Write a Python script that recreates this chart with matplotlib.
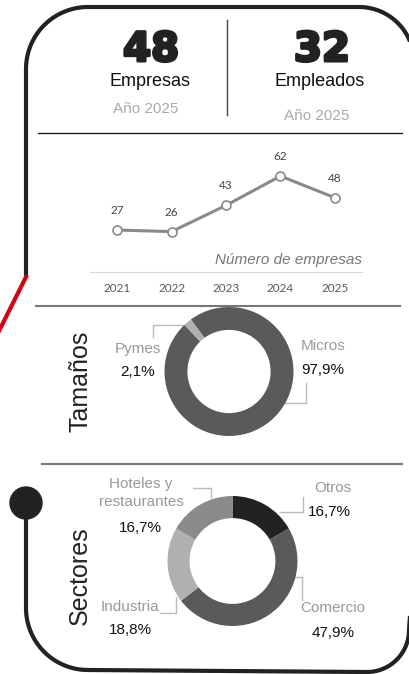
import matplotlib
matplotlib.use("Agg")
import matplotlib.pyplot as plt
import matplotlib.patheffects as pe
import numpy as np

# Data
years = ["2021", "2022", "2023", "2024", "2025"]
empresas = [27, 26, 43, 62, 48]

total_empresas = 48
total_empleados = 32

tam_labels = ["Micros", "Pymes"]
tam_values = [97.9, 2.1]

sec_labels = ["Otros", "Comercio", "Industria", "Hoteles y\nrestaurantes"]
sec_values = [16.7, 47.9, 18.8, 16.7]

W, H = 409, 674
SANS = ["Liberation Sans", "DejaVu Sans"]
DARK = "#222222"


def pct(v):
    return f"{v:.1f}".replace(".", ",") + "%"


def fig_rect(x0, y0, x1, y1):
    # pixel box (top-left origin) -> figure fraction
    return [x0 / W, 1 - y1 / H, (x1 - x0) / W, (y1 - y0) / H]


fig = plt.figure(figsize=(W / 100, H / 100), dpi=100)
bg = fig.add_axes([0, 0, 1, 1])
bg.set_xlim(0, W)
bg.set_ylim(H, 0)
bg.axis("off")

# frame
def arc(cx, cy, r, a0, a1):
    t = np.radians(np.linspace(a0, a1, 40))
    return cx + r * np.cos(t), cy - r * np.sin(t)

xs, ys = [26], [277]
ax_, ay_ = arc(88, 69, 62, 180, 90)
xs += list(ax_); ys += list(ay_)
ax_, ay_ = arc(359, 62, 55, 90, 0)
xs += list(ax_); ys += list(ay_)
bg.plot(xs, ys, color=DARK, lw=3, solid_capstyle="butt")

xs, ys = [26], [503]
ax_, ay_ = arc(88, 608, 62, 180, 270)
xs += list(ax_); ys += list(ay_)
ax_, ay_ = arc(367, 630, 42, 270, 360)
xs += list(ax_); ys += list(ay_)
xs += [409 + 5]; ys += [560]
bg.plot(xs, ys, color=DARK, lw=3, solid_capstyle="butt")
bg.add_patch(plt.Circle((26, 503), 16, color=DARK, zorder=5))
bg.plot([26, -2], [277, 333], color="#d7000f", lw=3)

# top numbers
heavy = [pe.withStroke(linewidth=2.2, foreground=DARK)]
bg.text(151, 50, str(total_empresas), ha="center", va="center", fontsize=29,
        fontweight="heavy", color=DARK, family="DejaVu Sans", path_effects=heavy)
bg.text(322, 50, str(total_empleados), ha="center", va="center", fontsize=29,
        fontweight="heavy", color=DARK, family="DejaVu Sans", path_effects=heavy)
bg.text(150, 82, "Empresas", ha="center", va="center", fontsize=13, color="#111", family=SANS)
bg.text(320, 82, "Empleados", ha="center", va="center", fontsize=13, color="#111", family=SANS)
bg.text(146, 109, "Año 2025", ha="center", va="center", fontsize=11, color="#aaaaaa", family=SANS)
bg.text(317, 116, "Año 2025", ha="center", va="center", fontsize=11, color="#aaaaaa", family=SANS)
bg.plot([227, 227], [20, 115], color="#444444", lw=1)
bg.plot([38, 402], [133, 133], color="#222222", lw=1)

# separators
bg.plot([36, 400], [305.5, 305.5], color="#777777", lw=1.5)
bg.plot([42, 402], [464, 464], color="#777777", lw=1.5)

# line chart
lc = fig.add_axes(fig_rect(90, 150, 362, 271.7))
x = np.arange(len(years))
lc.plot(x, empresas, color="#8a8a8a", lw=2.2, marker="o", ms=6.5,
        mfc="white", mec="#8a8a8a", mew=1.2)
for xi, v in zip(x, empresas):
    lc.annotate(str(v), (xi, v), xytext=(0, 10), textcoords="offset points",
                ha="center", va="bottom", fontsize=8.5, color="#444444", family="Lato")
lc.set_xlim(-0.5, len(years) - 0.5)
lc.set_ylim(0, 78.9)
lc.set_xticks(x)
lc.set_xticklabels(years, fontsize=8.5, color="#595959", family="Lato")
lc.tick_params(axis="x", length=0, pad=8)
lc.set_yticks([])
for s in ["top", "right", "left"]:
    lc.spines[s].set_visible(False)
lc.spines["bottom"].set_color("#d9d9d9")
lc.patch.set_alpha(0)
lc.text(4.5, 3, "Número de empresas", ha="right", va="bottom", fontsize=11,
        style="italic", color="#777777", family=SANS)

# Tamaños donut
t_ax = fig.add_axes(fig_rect(229 - 64.5, 371.5 - 64.5, 229 + 64.5, 371.5 + 64.5))
t_ax.pie(tam_values, colors=["#5a5a5a", "#b0b0b0"], startangle=126.2, counterclock=False,
         radius=1, wedgeprops=dict(width=0.355, linewidth=0))
t_ax.set_xlim(-1, 1); t_ax.set_ylim(-1, 1); t_ax.set_aspect("equal")

bg.text(80, 381, "Tamaños", rotation=90, ha="center", va="center", fontsize=18,
        color=DARK, family=SANS)
bg.text(138, 349, tam_labels[1], ha="center", va="center", fontsize=11, color="#999999", family=SANS)
bg.text(138, 372, pct(tam_values[1]), ha="center", va="center", fontsize=11, color="#111", family=SANS)
bg.text(323, 346, tam_labels[0], ha="center", va="center", fontsize=11, color="#999999", family=SANS)
bg.text(323, 370, pct(tam_values[0]), ha="center", va="center", fontsize=11, color="#111", family=SANS)
bg.plot([153, 153, 183], [337, 325, 325], color="#bbbbbb", lw=1)
bg.plot([306, 306, 285], [383, 403, 403], color="#bbbbbb", lw=1)

# Sectores donut
s_ax = fig.add_axes(fig_rect(232.5 - 65, 561 - 65, 232.5 + 65, 561 + 65))
s_ax.pie(sec_values, colors=["#222222", "#5a5a5a", "#b0b0b0", "#8a8a8a"], startangle=90,
         counterclock=False, radius=1, wedgeprops=dict(width=0.34, linewidth=0))
s_ax.set_xlim(-1, 1); s_ax.set_ylim(-1, 1); s_ax.set_aspect("equal")

bg.text(80, 576, "Sectores", rotation=90, ha="center", va="center", fontsize=18,
        color=DARK, family=SANS)
bg.text(141, 493, sec_labels[3], ha="center", va="center", fontsize=11, color="#999999",
        family=SANS, linespacing=1.35)
bg.text(140, 528, pct(sec_values[3]), ha="center", va="center", fontsize=11, color="#111", family=SANS)
bg.text(333, 488, sec_labels[0], ha="center", va="center", fontsize=11, color="#999999", family=SANS)
bg.text(329, 512, pct(sec_values[0]), ha="center", va="center", fontsize=11, color="#111", family=SANS)
bg.text(333, 608, sec_labels[1], ha="center", va="center", fontsize=11, color="#999999", family=SANS)
bg.text(333, 633, pct(sec_values[1]), ha="center", va="center", fontsize=11, color="#111", family=SANS)
bg.text(130, 607, sec_labels[2], ha="center", va="center", fontsize=11, color="#999999", family=SANS)
bg.text(130, 630, pct(sec_values[2]), ha="center", va="center", fontsize=11, color="#111", family=SANS)
bg.plot([193, 211, 211], [488, 488, 498], color="#bbbbbb", lw=1)
bg.plot([280, 303, 303], [512, 512, 497], color="#bbbbbb", lw=1)
bg.plot([293, 302, 302], [577, 577, 600], color="#bbbbbb", lw=1)
bg.plot([160, 176, 176], [613, 613, 597], color="#bbbbbb", lw=1)

fig.savefig("out.png", dpi=100)
